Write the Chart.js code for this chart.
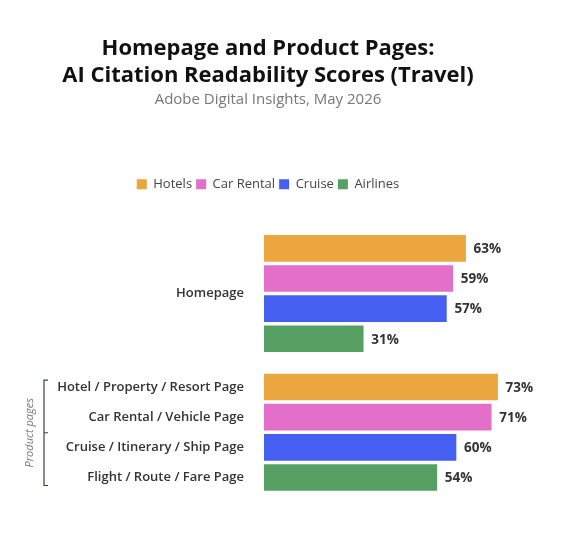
<!DOCTYPE html>
<html>
<head>
<meta charset="utf-8">
<script src="https://cdn.jsdelivr.net/npm/chart.js@4"></script>
<style>
  body { margin: 0; background: #fff; }
  #wrap { width: 570px; height: 548px; }
</style>
</head>
<body>
<div id="wrap"><canvas id="chart"></canvas></div>
<script>
// --- DATA ---
const series = ['Hotels', 'Car Rental', 'Cruise', 'Airlines'];
const colors = ['#EBA63F', '#E46FC8', '#4560F0', '#55A062'];
const homepageValues = [63, 59, 57, 31];
const productValues = [73, 71, 60, 54];
const productLabels = ['Hotel / Property / Resort Page', 'Car Rental / Vehicle Page', 'Cruise / Itinerary / Ship Page', 'Flight / Route / Fare Page'];
const homepageLabel = 'Homepage';

// row positions on the y scale (homepage rows, then product rows after a gap)
const homeRows = [0, 1, 2, 3];
const productRows = [4.6, 5.6, 6.6, 7.6];

const datasets = series.map((name, i) => ({
    label: name,
    data: [{ x: homepageValues[i], y: homeRows[i] }, { x: productValues[i], y: productRows[i] }],
    backgroundColor: colors[i],
    barThickness: 26,
    grouped: false
}));

const tickPositions = [1.5].concat(productRows);
const tickText = [homepageLabel].concat(productLabels);

const FONT = '"Open Sans", "Noto Sans", sans-serif';

const valueLabels = {
    id: 'valueLabels',
    afterDatasetsDraw(chart) {
        const ctx = chart.ctx;
        ctx.save();
        ctx.font = 'bold 13.5px ' + FONT;
        ctx.fillStyle = '#333';
        ctx.textBaseline = 'middle';
        chart.data.datasets.forEach((ds, i) => {
            chart.getDatasetMeta(i).data.forEach((bar, j) => {
                ctx.fillText(ds.data[j].x + '%', bar.x + 8, bar.y + 1);
            });
        });
        ctx.restore();
    }
};

const bracket = {
    id: 'bracket',
    afterDraw(chart) {
        const y = chart.scales.y;
        const top = y.getPixelForValue(productRows[0]) - 7;
        const bot = y.getPixelForValue(productRows[3]) + 8;
        const x = 44;
        const ctx = chart.ctx;
        ctx.save();
        ctx.strokeStyle = '#2f4a37';
        ctx.lineWidth = 1.2;
        ctx.beginPath();
        ctx.moveTo(x + 4, top); ctx.lineTo(x, top); ctx.lineTo(x, bot); ctx.lineTo(x + 4, bot);
        ctx.moveTo(x, (top + bot) / 2); ctx.lineTo(x + 4, (top + bot) / 2);
        ctx.stroke();
        ctx.translate(x - 14, (top + bot) / 2);
        ctx.rotate(-Math.PI / 2);
        ctx.font = 'italic 11px ' + FONT;
        ctx.fillStyle = '#777';
        ctx.textAlign = 'center';
        ctx.textBaseline = 'middle';
        ctx.fillText('Product pages', 0, 0);
        ctx.restore();
    }
};

new Chart(document.getElementById('chart'), {
    type: 'bar',
    data: { datasets },
    plugins: [valueLabels, bracket],
    options: {
        indexAxis: 'y',
        responsive: true,
        maintainAspectRatio: false,
        animation: false,
        layout: { padding: { top: 14, right: 34, bottom: 23, left: 0 } },
        plugins: {
            title: {
                display: true,
                text: ['Homepage and Product Pages:', 'AI Citation Readability Scores (Travel)'],
                color: '#111',
                font: { family: FONT, size: 22, weight: 'bold', lineHeight: 1.2 },
                padding: { top: 22, bottom: 2 }
            },
            subtitle: {
                display: true,
                text: 'Adobe Digital Insights, May 2026',
                color: '#777',
                font: { family: FONT, size: 15 },
                padding: { bottom: 65 }
            },
            legend: {
                position: 'top',
                labels: {
                    boxWidth: 10, boxHeight: 10, color: '#444',
                    font: { family: FONT, size: 13 }, padding: 4
                }
            },
            tooltip: { enabled: false }
        },
        scales: {
            x: {
                min: 0, max: 85,
                display: false
            },
            y: {
                type: 'linear',
                reverse: true,
                min: -0.5, max: 8.1,
                grid: { display: false },
                border: { display: false },
                afterBuildTicks: scale => { scale.ticks = tickPositions.map(v => ({ value: v })); },
                afterFit: scale => { scale.width = 264; },
                ticks: {
                    color: '#333',
                    padding: 12,
                    font: { family: FONT, size: 13, weight: '600' },
                    callback: (v) => tickText[tickPositions.indexOf(v)]
                }
            }
        }
    }
});
</script>
</body>
</html>
